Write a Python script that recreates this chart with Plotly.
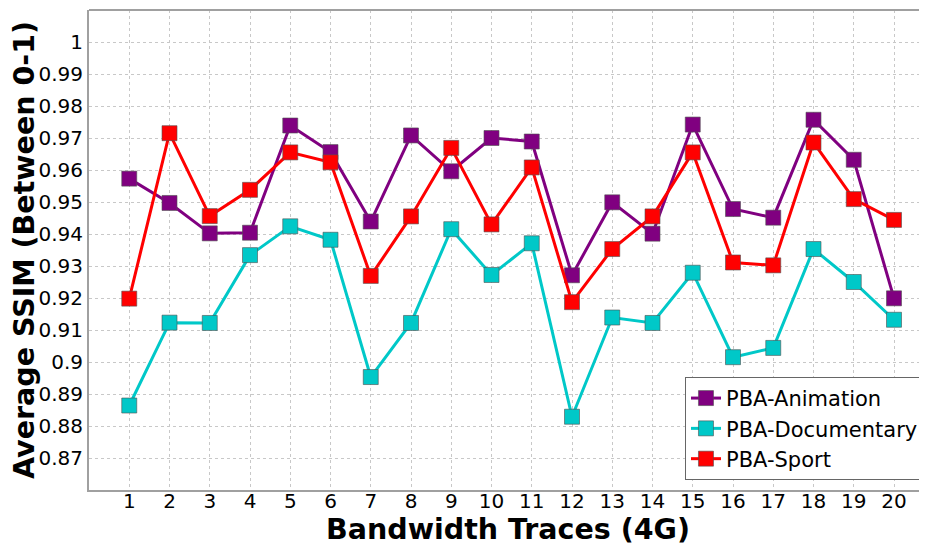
import plotly.graph_objects as go

traces = list(range(1, 21))
animation = [0.9573, 0.9497, 0.9402, 0.9404, 0.9739, 0.9656, 0.9439, 0.9708, 0.9596, 0.9700,
             0.9689, 0.9271, 0.9499, 0.9401, 0.9742, 0.9478, 0.9451, 0.9757, 0.9632, 0.9199]
documentary = [0.8864, 0.9123, 0.9122, 0.9334, 0.9424, 0.9382, 0.8953, 0.9122, 0.9415, 0.9272,
               0.9371, 0.8829, 0.9139, 0.9122, 0.9279, 0.9015, 0.9044, 0.9353, 0.9250, 0.9132]
sport = [0.9198, 0.9715, 0.9456, 0.9538, 0.9655, 0.9624, 0.9269, 0.9455, 0.9669, 0.9430,
         0.9608, 0.9187, 0.9353, 0.9455, 0.9655, 0.9311, 0.9302, 0.9686, 0.9509, 0.9444]
series_names = ["PBA-Animation", "PBA-Documentary", "PBA-Sport"]
colors = ["#800080", "#00C8C8", "#FF0000"]
y_ticks = [0.87, 0.88, 0.89, 0.90, 0.91, 0.92, 0.93, 0.94, 0.95, 0.96, 0.97, 0.98, 0.99, 1.0]
y_tick_labels = ["0.87", "0.88", "0.89", "0.9", "0.91", "0.92", "0.93", "0.94", "0.95",
                 "0.96", "0.97", "0.98", "0.99", "1"]
x_title = "Bandwidth Traces (4G)"
y_title = "Average SSIM (Between 0-1)"

fig = go.Figure()
for name, vals, col in zip(series_names, [animation, documentary, sport], colors):
    fig.add_trace(go.Scatter(
        x=traces, y=vals, name=name, mode="lines+markers",
        line=dict(color=col, width=3),
        marker=dict(symbol="square", size=15, color=col,
                    line=dict(color="rgba(80,80,80,0.6)", width=1)),
    ))

font_family = "DejaVu Sans"
# page body has an 8px default margin; figure is sized/offset to compensate
fig.update_layout(
    width=919, height=537,
    margin=dict(l=81, r=0, t=2, b=55, autoexpand=False),
    paper_bgcolor="white", plot_bgcolor="white",
    font=dict(family=font_family, size=20, color="black"),
    showlegend=True,
    legend=dict(
        x=0.9964, y=0.021, xanchor="right", yanchor="bottom",
        bgcolor="white", bordercolor="#666666", borderwidth=1,
        font=dict(family=font_family, size=21),
        tracegroupgap=0,
    ),
    xaxis=dict(
        range=[0, 20.82], tickvals=traces, ticktext=[str(t) for t in traces],
        showgrid=True, gridcolor="#c8c8c8", griddash="dot", gridwidth=1,
        showline=True, linecolor="#a0a0a0", linewidth=2, mirror=False,
        ticks="", zeroline=False, automargin=False, ticklabelstandoff=-8,
        tickfont=dict(family=font_family, size=20),
    ),
    yaxis=dict(
        range=[0.86, 1.01], tickvals=y_ticks, ticktext=y_tick_labels,
        showgrid=True, gridcolor="#c8c8c8", griddash="dot", gridwidth=1,
        showline=True, linecolor="#a0a0a0", linewidth=2, mirror=False,
        ticks="", zeroline=False, automargin=False,
        tickfont=dict(family=font_family, size=20),
    ),
)
# top spine
fig.add_shape(type="line", xref="paper", yref="paper", x0=0, x1=1, y0=1, y1=1,
              line=dict(color="#a0a0a0", width=2))
fig.add_annotation(text="<b>" + x_title + "</b>", xref="paper", yref="paper",
                   x=0.5, y=-0.083, xanchor="center", yanchor="middle", showarrow=False,
                   font=dict(family=font_family, size=28.5, color="black"))
fig.add_annotation(text="<b>" + y_title + "</b>", xref="paper", yref="paper",
                   x=-0.0776, y=0.5, xanchor="center", yanchor="middle", showarrow=False,
                   textangle=-90, font=dict(family=font_family, size=28.5, color="black"))

fig.write_html("out.html")
